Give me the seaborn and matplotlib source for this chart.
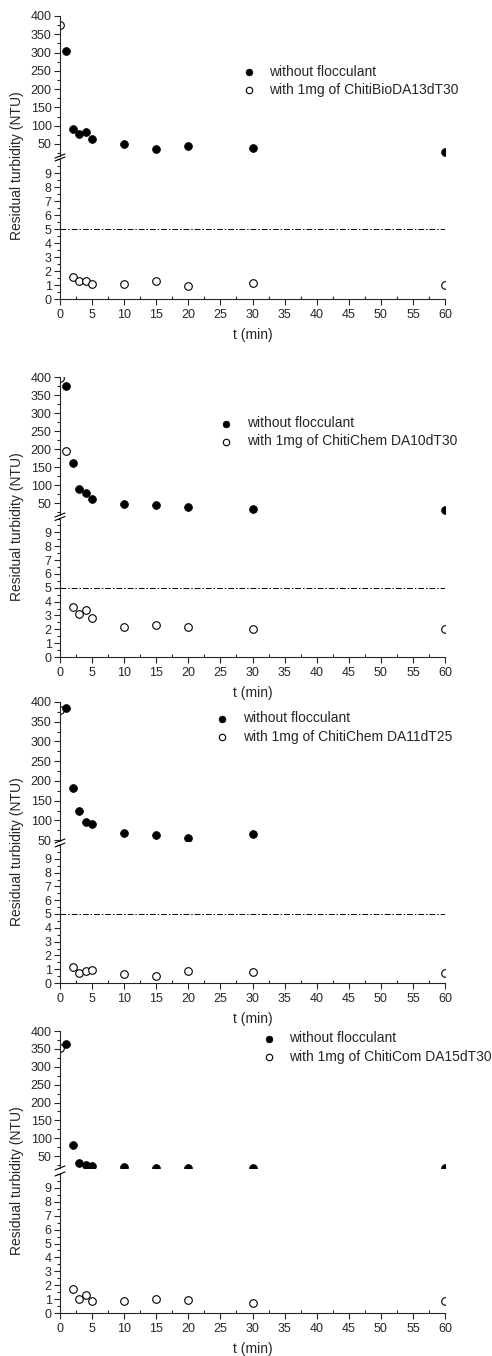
import numpy as np
import seaborn as sns
import matplotlib.pyplot as plt
from matplotlib.lines import Line2D
from matplotlib.ticker import MultipleLocator

# sampling times (min)
t = [0, 1, 2, 3, 4, 5, 10, 15, 20, 30, 60]
nan = np.nan

# residual turbidity (NTU), one pair of series per panel
without_1 = [nan, 304, 90, 77, 82, 63, 49, 37, 43, 40, 27]
with_1 = [375, nan, 1.55, 1.29, 1.29, 1.07, 1.05, 1.29, 0.93, 1.16, 1.0]
without_2 = [nan, 374, 163, 91, 79, 63, 49, 47, 40, 35, 32]
with_2 = [398, 195, 3.62, 3.14, 3.41, 2.83, 2.13, 2.30, 2.13, 2.03, 2.0]
without_3 = [nan, 386, 181, 125, 97, 90, 69, 63, 55, 66, nan]
with_3 = [379, nan, 1.18, 0.69, 0.84, 0.91, 0.65, 0.53, 0.84, 0.77, 0.75]
without_4 = [nan, 365, 80, 30, 24, 22, 20, 18, 18, 18, 18]
with_4 = [353, nan, 1.73, 1.03, 1.27, 0.84, 0.84, 0.99, 0.94, 0.72, 0.84]

products = ["ChitiBioDA13dT30", "ChitiChem DA10dT30",
            "ChitiChem DA11dT25", "ChitiCom DA15dT30"]
limit_line = [5, 5, 5, None]

sns.set_style("ticks")
plt.rcParams["font.family"] = ["Liberation Sans", "DejaVu Sans"]

W, H = 492, 1356
fig = plt.figure(figsize=(W / 100, H / 100), dpi=100)


def fx(px):
    return px / W


def fy(py):
    return 1 - py / H


# layout in pixels: upper top, upper bottom, lower top, lower bottom, upper ylim bottom
boxes = [(16, 156, 159, 299, 17),
         (377, 515, 518.5, 657, 18),
         (702, 841, 845, 983, 48),
         (1031, 1168, 1174, 1313, 17)]
legend_pos = [(248, 72), (225.7, 423.7), (221.7, 719), (268, 1039)]
left, right = 60, 445

series = [(without_1, with_1), (without_2, with_2),
          (without_3, with_3), (without_4, with_4)]

for i, (ut, ub, lt, lb, ymin_up) in enumerate(boxes):
    ax_up = fig.add_axes([fx(left), fy(ub), fx(right) - fx(left), fy(ut) - fy(ub)])
    ax_lo = fig.add_axes([fx(left), fy(lb), fx(right) - fx(left), fy(lt) - fy(lb)])
    wo, wi = series[i]

    for ax in (ax_up, ax_lo):
        sns.scatterplot(x=t, y=wi, ax=ax, marker="o", s=30, facecolor="white",
                        edgecolor="black", linewidth=0.8,
                        label=f"with 1mg of {products[i]}")
        sns.scatterplot(x=t, y=wo, ax=ax, marker="o", s=32, color="black",
                        edgecolor="black", linewidth=0.5,
                        label="without flocculant")
        ax.set_xlim(0, 60)
        ax.set_xlabel("")
        ax.set_ylabel("")
        for s in ("top", "right"):
            ax.spines[s].set_visible(False)
        ax.spines["left"].set_linewidth(0.8)
        ax.spines["bottom"].set_linewidth(0.8)
        ax.tick_params(axis="y", which="major", direction="out", length=4,
                       width=0.8, labelsize=9, pad=2)
        ax.tick_params(axis="y", which="minor", direction="out", length=2, width=0.8)

    ax_up.set_ylim(ymin_up, 400)
    ax_up.yaxis.set_minor_locator(MultipleLocator(25))
    ax_up.set_yticks([50, 100, 150, 200, 250, 300, 350, 400])
    ax_up.spines["bottom"].set_visible(False)
    ax_up.tick_params(axis="x", which="both", bottom=False, labelbottom=False)
    ax_up.get_legend().remove()

    ax_lo.set_ylim(0, 10)
    ax_lo.set_yticks(range(0, 10))
    ax_lo.yaxis.set_minor_locator(MultipleLocator(0.5))
    ax_lo.xaxis.set_major_locator(MultipleLocator(5))
    ax_lo.xaxis.set_minor_locator(MultipleLocator(2.5))
    ax_lo.tick_params(axis="x", which="major", direction="out", length=4,
                      width=0.8, labelsize=9, pad=3)
    ax_lo.tick_params(axis="x", which="minor", direction="in", length=2, width=0.8)
    ax_lo.set_xlabel("t (min)", fontsize=10, labelpad=5)
    ax_lo.get_legend().remove()

    if limit_line[i] is not None:
        ax_lo.axhline(limit_line[i], color="black", lw=0.7, ls=(0, (6, 2, 1.5, 2)))

    # legend, "without" first
    handles, labels = ax_up.get_legend_handles_labels()
    mx, my = legend_pos[i]
    ax_up.legend(handles[::-1], labels[::-1], loc="upper left",
                 bbox_to_anchor=(fx(mx - 6), fy(my - 7.5)),
                 bbox_transform=fig.transFigure, frameon=False, fontsize=10,
                 handlelength=0.96, handletextpad=1.0, borderpad=0,
                 borderaxespad=0, labelspacing=0.3, markerscale=0.85)

    # axis break marks
    for yb in (ub, lt):
        fig.add_artist(Line2D([fx(left - 5), fx(left + 5)], [fy(yb + 2), fy(yb - 2)],
                              transform=fig.transFigure, color="black", lw=0.8))

    fig.text(fx(17), fy(ut + 150), "Residual turbidity (NTU)", rotation=90,
             ha="center", va="center", fontsize=10)

fig.savefig("out.png", dpi=100)
